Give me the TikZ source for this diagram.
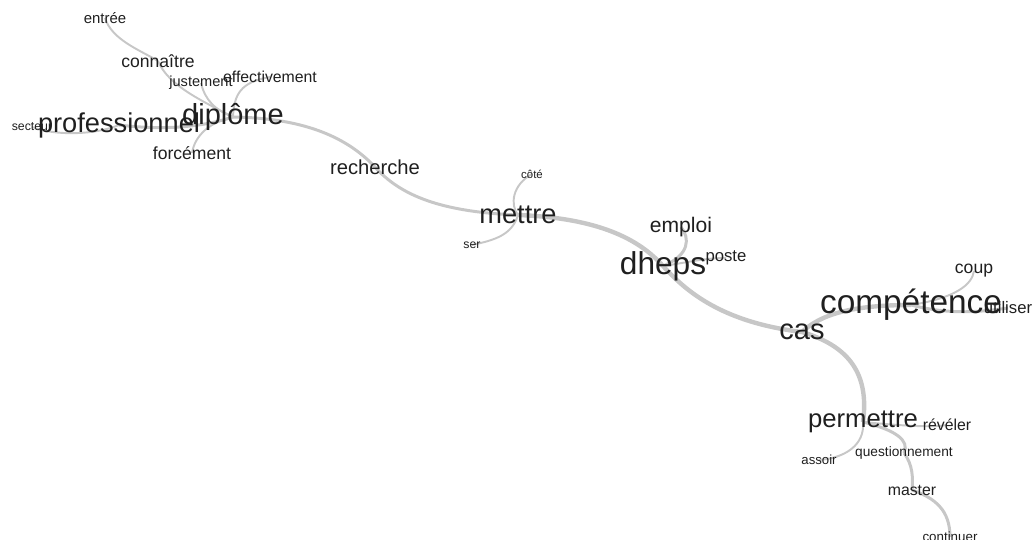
\documentclass[tikz,border=0pt]{standalone}
\usepackage{fontspec}
\setmainfont{Liberation Sans}
\usetikzlibrary{backgrounds}

\begin{document}
\begin{tikzpicture}[x=0.02cm, y=-0.02cm, line cap=round,
                    word/.style={inner sep=0pt,text=black!88,font=\fontsize{#1}{#1}\selectfont},
                    link/.style={draw=black!22,line width=1.1pt},
                    mid link/.style={link,line width=1.7pt},
                    thick link/.style={link,line width=2.5pt}]

          \useasboundingbox (0,0) rectangle (1035,539);

          \node[word=8.5]  (1)  at (105,18)  {entrée};
          \node[word=10]   (2)  at (158,61)  {connaître};
          \node[word=8.3]  (3)  at (201,83)  {justement};
          \node[word=9]    (4)  at (270,77)  {effectivement};
          \node[word=16.5] (5)  at (233,117) {diplôme};
          \node[word=15.5] (6)  at (119,125) {professionnel};
          \node[word=7]    (7)  at (32,127)  {secteur};
          \node[word=10]   (8)  at (192,153) {forcément};
          \node[word=11.5] (9)  at (375,167) {recherche};
          \node[word=6.5]  (10) at (532,174) {côté};
          \node[word=15.5] (11) at (518,215) {mettre};
          \node[word=7]    (12) at (472,245) {ser};
          \node[word=12]   (13) at (681,227) {emploi};
          \node[word=18]   (14) at (663,266) {dheps};
          \node[word=9.5]  (15) at (726,258) {poste};
          \node[word=10]   (16) at (974,271) {coup};
          \node[word=19]   (17) at (911,305) {compétence};
          \node[word=9.5]  (18) at (1008,308) {utiliser};
          \node[word=16.5] (19) at (802,332) {cas};
          \node[word=14.6] (20) at (863,422) {permettre};
          \node[word=9]    (21) at (947,425) {révéler};
          \node[word=7.5]  (22) at (819,460) {assoir};
          \node[word=7.8]  (23) at (904,453) {questionnement};
          \node[word=9]    (24) at (912,490) {master};
          \node[word=7.6]  (25) at (950,537) {continuer};

          \begin{scope}[on background layer]
          \draw[link]       (1.center)  .. controls (112,40) and (140,50) .. (2.center);
          \draw[link]       (2.center)  .. controls (168,85) and (200,100) .. (5.center);
          \draw[link]       (3.center)  .. controls (205,100) and (215,110) .. (5.center);
          \draw[link]       (4.center)  .. controls (240,82) and (234,95) .. (5.center);
          \draw[mid link]   (6.center)  .. controls (160,130) and (200,128) .. (5.center);
          \draw[link]       (7.center)  .. controls (55,136) and (95,135) .. (6.center);
          \draw[link]       (8.center)  .. controls (195,135) and (210,122) .. (5.center);
          \draw[mid link]   (5.center)  .. controls (300,118) and (345,135) .. (9.center);
          \draw[mid link]   (9.center)  .. controls (400,195) and (440,212) .. (11.center);
          \draw[link]       (11.center) .. controls (510,205) and (512,185) .. (10.center);
          \draw[link]       (11.center) .. controls (512,235) and (495,240) .. (12.center);
          \draw[thick link] (11.center) .. controls (600,218) and (640,240) .. (14.center);
          \draw[mid link]   (14.center) .. controls (690,255) and (690,238) .. (13.center);
          \draw[link]       (14.center) .. controls (690,262) and (705,258) .. (15.center);
          \draw[thick link] (14.center) .. controls (685,290) and (720,322) .. (19.center);
          \draw[thick link] (19.center) .. controls (820,315) and (850,305) .. (17.center);
          \draw[link]       (17.center) .. controls (955,298) and (972,285) .. (16.center);
          \draw[mid link]   (17.center) .. controls (950,315) and (980,312) .. (18.center);
          \draw[thick link] (19.center) .. controls (845,345) and (870,370) .. (20.center);
          \draw[link]       (20.center) .. controls (865,445) and (845,458) .. (22.center);
          \draw[link]       (20.center) .. controls (895,425) and (930,428) .. (21.center);
          \draw[mid link]   (20.center) .. controls (895,430) and (910,440) .. (23.center);
          \draw[mid link]   (23.center) .. controls (913,465) and (913,478) .. (24.center);
          \draw[mid link]   (24.center) .. controls (935,498) and (950,510) .. (25.center);
          \end{scope}

        \end{tikzpicture}
\end{document}
